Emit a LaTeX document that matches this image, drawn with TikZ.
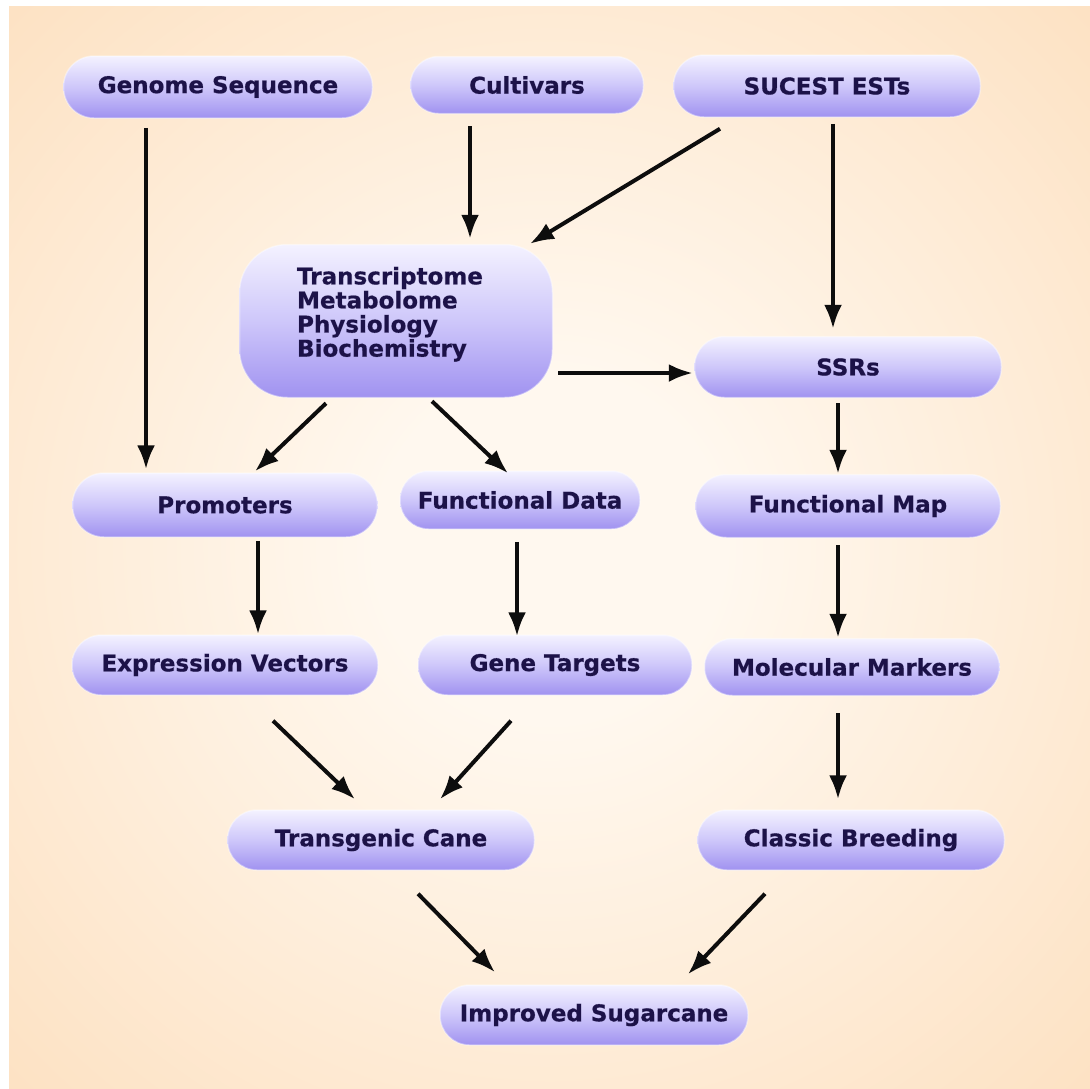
\documentclass[tikz,border=0pt]{standalone}
\usepackage{fontspec}
\setmainfont{DejaVu Sans}[BoldFeatures={FakeBold=2.5}]
\usetikzlibrary{arrows.meta}
\definecolor{bgin}{HTML}{FFF8EF}
\definecolor{bgout}{HTML}{FCD6AC}
\definecolor{ntop}{HTML}{F4F2FF}
\definecolor{nmid}{HTML}{CEC7FA}
\definecolor{nbot}{HTML}{A092F0}
\definecolor{ntext}{HTML}{1C1248}
\pgfdeclareradialshading{bgshade}{\pgfpoint{0bp}{0bp}}{color(0bp)=(bgin); color(8bp)=(bgin); color(50bp)=(bgout); color(75bp)=(bgout)}
\begin{document}
\begin{tikzpicture}[x=1pt,y=-1pt,
  pill/.style n args={2}{shape=rectangle, rounded corners={#2pt/2-0.5pt},
    top color=ntop, bottom color=nbot, middle color=nmid,
    draw=white, draw opacity=.4, line width=1.5pt, inner sep=0pt,
    text=ntext, font=\fontsize{23}{23}\selectfont\bfseries,
    minimum width=#1pt, minimum height=#2pt},
  arr/.style={line width=4pt, draw=black!95, -{Latex[length=24pt,width=18pt]}}]
\useasboundingbox (0,0) rectangle (1090,1088);
\fill[white] (0,0) rectangle (1090,1088);
\shade[shading=bgshade] (9,6) rectangle (1090,1088);

\node[pill={309}{62}] (gs) at (218,87) {Genome Sequence};
\node[pill={233}{57}] (cv) at (527,85) {Cultivars};
\node[pill={307}{62}] (su) at (827,86) {SUCEST ESTs};
\node[pill={313}{153}, rounded corners=48pt, font=\fontsize{23}{22}\selectfont\bfseries] (big) at (396,321)
  {\begin{tabular}{@{}l@{\hspace{12pt}}}Transcriptome\\Metabolome\\Physiology\\Biochemistry\\[12pt]\end{tabular}};
\node[pill={307}{61}] (ssr) at (848,367) {SSRs};
\node[pill={305}{64}] (pro) at (225,505) {Promoters};
\node[pill={240}{58}] (fd) at (520,500) {Functional Data};
\node[pill={305}{63}] (fm) at (848,506) {Functional Map};
\node[pill={306}{60}] (ev) at (225,665) {Expression Vectors};
\node[pill={274}{60}] (gt) at (555,665) {Gene Targets};
\node[pill={295}{57}] (mm) at (852,667) {Molecular Markers};
\node[pill={307}{60}] (tc) at (381,840) {Transgenic Cane};
\node[pill={307}{60}] (cb) at (851,840) {Classic Breeding};
\node[pill={308}{60}] (is) at (594,1015) {Improved Sugarcane};

\draw[arr] ([shift={(-72,9)}]gs.south) -- ([shift={(-79,-3)}]pro.north);
\draw[arr] ([shift={(-57,12)}]cv.south) -- ([shift={(74,-5)}]big.north);
\draw[arr] ([shift={(-107,11)}]su.south) -- ([shift={(134,0)}]big.north);
\draw[arr] ([shift={(6,6)}]su.south) -- ([shift={(-15,-7)}]ssr.north);
\draw[arr] ([shift={(5,52)}]big.east) -- ([shift={(-1,6)}]ssr.west);
\draw[arr] ([shift={(-70,5)}]big.south) -- ([shift={(30,-1)}]pro.north);
\draw[arr] ([shift={(36,3)}]big.south) -- ([shift={(-12,3)}]fd.north);
\draw[arr] ([shift={(-10,5)}]ssr.south) -- ([shift={(-10,0)}]fm.north);
\draw[arr] ([shift={(33,3)}]pro.south) -- ([shift={(33,0)}]ev.north);
\draw[arr] ([shift={(-3,12)}]fd.south) -- ([shift={(-38,2)}]gt.north);
\draw[arr] ([shift={(-10,7)}]fm.south) -- ([shift={(-14,0)}]mm.north);
\draw[arr] ([shift={(48,25)}]ev.south) -- ([shift={(-26,-10)}]tc.north);
\draw[arr] ([shift={(-44,25)}]gt.south) -- ([shift={(59,-10)}]tc.north);
\draw[arr] ([shift={(-14,17)}]mm.south) -- ([shift={(-13,-10)}]cb.north);
\draw[arr] ([shift={(37,23)}]tc.south) -- ([shift={(-99,-12)}]is.north);
\draw[arr] ([shift={(-86,23)}]cb.south) -- ([shift={(94,-10)}]is.north);
\end{tikzpicture}
\end{document}
